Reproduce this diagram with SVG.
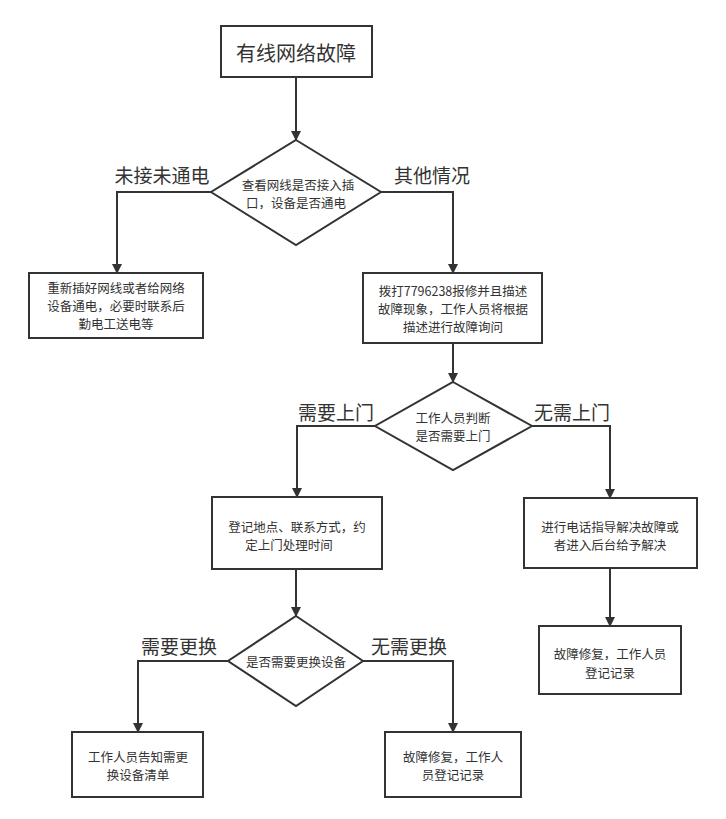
<svg xmlns="http://www.w3.org/2000/svg" width="726" height="819" viewBox="0 0 726 819">
<defs>
<marker id="arr" viewBox="0 0 10 10" refX="9" refY="5" markerWidth="10" markerHeight="10" markerUnits="userSpaceOnUse" orient="auto">
<path d="M0,0 L10,5 L0,10 z" fill="#333"/>
</marker>
</defs>
<style>
.n{fill:#fff;stroke:#333;stroke-width:2}
.c{fill:none;stroke:#333;stroke-width:2;marker-end:url(#arr)}
text{font-family:"Noto Sans CJK SC","Noto Sans",sans-serif;fill:#333;text-anchor:middle;dominant-baseline:central}
.t{font-size:12.5px}
.big{font-size:20px}
.lbl{font-size:19px}
</style>
<rect width="726" height="819" fill="#fff"/>
<g id="connectors">
<path class="c" d="M296,77 V140"/>
<path class="c" d="M211,192 H117 V273"/>
<path class="c" d="M381,192 H453 V273"/>
<path class="c" d="M453,343 V382"/>
<path class="c" d="M375,426 H297 V497"/>
<path class="c" d="M532,426 H610 V498"/>
<path class="c" d="M610,568 V626"/>
<path class="c" d="M296,569 V616"/>
<path class="c" d="M228,661 H138 V732"/>
<path class="c" d="M363,661 H453 V732"/>
<text class="lbl" x="162" y="174">未接未通电</text>
<text class="lbl" x="432" y="174">其他情况</text>
<text class="lbl" x="336" y="411">需要上门</text>
<text class="lbl" x="572" y="411">无需上门</text>
<text class="lbl" x="179" y="645">需要更换</text>
<text class="lbl" x="409" y="645">无需更换</text>
</g>
<g id="start">
<rect class="n" x="221" y="26" width="151" height="51"/>
<text class="big" x="296" y="52">有线网络故障</text>
</g>
<g id="d1">
<polygon class="n" points="296,140 381,192 296,245 211,192"/>
<text class="t" x="298" y="184">查看网线是否接入插</text>
<text class="t" x="296" y="202">口，设备是否通电</text>
</g>
<g id="b1">
<rect class="n" x="29" y="273" width="174" height="65"/>
<text class="t" x="116" y="287">重新插好网线或者给网络</text>
<text class="t" x="116" y="305">设备通电，必要时联系后</text>
<text class="t" x="116" y="323">勤电工送电等</text>
</g>
<g id="b2">
<rect class="n" x="363" y="273" width="179" height="70"/>
<text class="t" x="453" y="290">拨打7796238报修并且描述</text>
<text class="t" x="453" y="308">故障现象，工作人员将根据</text>
<text class="t" x="453" y="326">描述进行故障询问</text>
</g>
<g id="d2">
<polygon class="n" points="453,382 532,426 453,470 375,426"/>
<text class="t" x="453" y="417">工作人员判断</text>
<text class="t" x="453" y="435">是否需要上门</text>
</g>
<g id="b3">
<rect class="n" x="212" y="497" width="170" height="72"/>
<text class="t" x="297" y="526">登记地点、联系方式，约</text>
<text class="t" x="289" y="544">定上门处理时间</text>
</g>
<g id="b4">
<rect class="n" x="524" y="498" width="173" height="70"/>
<text class="t" x="610" y="526">进行电话指导解决故障或</text>
<text class="t" x="610" y="544">者进入后台给予解决</text>
</g>
<g id="b5">
<rect class="n" x="539" y="626" width="142" height="68"/>
<text class="t" x="610" y="653">故障修复，工作人员</text>
<text class="t" x="610" y="672">登记记录</text>
</g>
<g id="d3">
<polygon class="n" points="296,616 363,661 296,706 228,661"/>
<text class="t" x="296" y="661">是否需要更换设备</text>
</g>
<g id="b6">
<rect class="n" x="72" y="732" width="131" height="65"/>
<text class="t" x="138" y="756">工作人员告知需更</text>
<text class="t" x="138" y="774">换设备清单</text>
</g>
<g id="b7">
<rect class="n" x="385" y="732" width="136" height="65"/>
<text class="t" x="453" y="756">故障修复，工作人</text>
<text class="t" x="453" y="774">员登记记录</text>
</g>
</svg>
